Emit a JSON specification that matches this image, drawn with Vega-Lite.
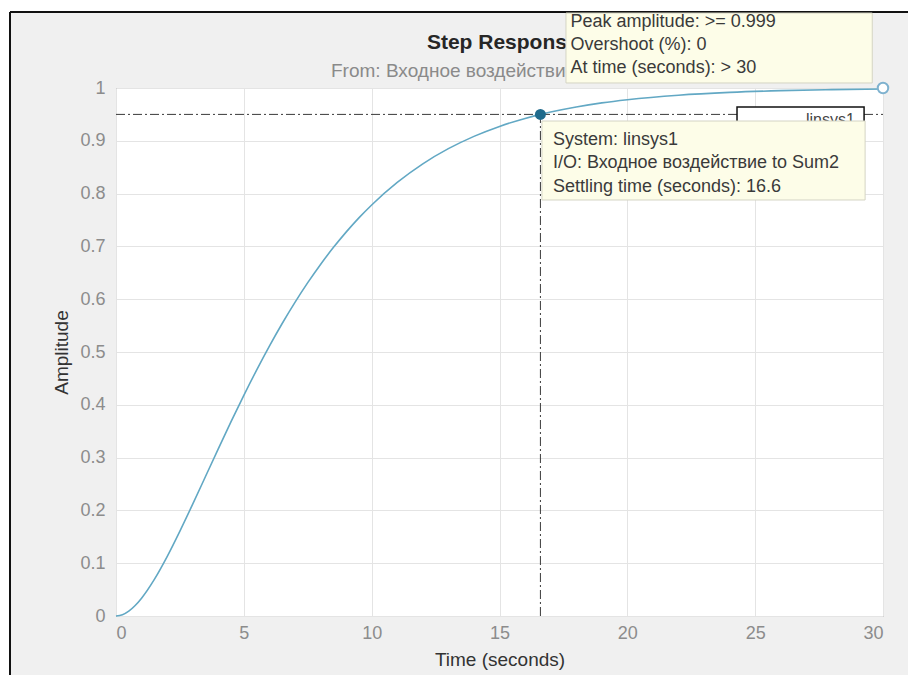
{
  "$schema": "https://vega.github.io/schema/vega-lite/v6.json",
  "width": 767,
  "height": 528,
  "autosize": {"type": "none"},
  "padding": {"left": 116, "top": 88, "right": 25, "bottom": 59},
  "background": "#f0f0f0",
  "config": {
    "font": "Liberation Sans",
    "view": {"fill": "white", "stroke": "#808080", "strokeWidth": 1}
  },
  "datasets": {
    "frameFill": [
      {"x": -4.7, "x2": 31.2, "y": 1.1439, "y2": 1.2},
      {"x": -4.7, "x2": -4.146, "y": -0.2, "y2": 1.2}
    ],
    "frameLine": [
      {"x": -4.146, "x2": 31.2, "y": 1.1439, "y2": 1.1439},
      {"x": -4.146, "x2": -4.146, "y": -0.2, "y2": 1.1439}
    ],
    "response": [
      {"x": 0, "y": 0},
      {"x": 0.25, "y": 0.0024},
      {"x": 0.5, "y": 0.0092},
      {"x": 0.75, "y": 0.0199},
      {"x": 1, "y": 0.0338},
      {"x": 1.5, "y": 0.0694},
      {"x": 2, "y": 0.1126},
      {"x": 2.5, "y": 0.1609},
      {"x": 3, "y": 0.2118},
      {"x": 3.5, "y": 0.2642},
      {"x": 4, "y": 0.3166},
      {"x": 4.5, "y": 0.368},
      {"x": 5, "y": 0.4179},
      {"x": 5.5, "y": 0.4657},
      {"x": 6, "y": 0.5111},
      {"x": 6.5, "y": 0.554},
      {"x": 7, "y": 0.594},
      {"x": 7.5, "y": 0.6313},
      {"x": 8, "y": 0.6659},
      {"x": 8.5, "y": 0.6977},
      {"x": 9, "y": 0.727},
      {"x": 9.5, "y": 0.754},
      {"x": 10, "y": 0.7785},
      {"x": 11, "y": 0.8211},
      {"x": 12, "y": 0.8564},
      {"x": 13, "y": 0.8851},
      {"x": 14, "y": 0.9084},
      {"x": 15, "y": 0.9273},
      {"x": 16, "y": 0.9424},
      {"x": 16.6, "y": 0.95},
      {"x": 17, "y": 0.9545},
      {"x": 18, "y": 0.9641},
      {"x": 19, "y": 0.9718},
      {"x": 20, "y": 0.9778},
      {"x": 22, "y": 0.9864},
      {"x": 24, "y": 0.9917},
      {"x": 26, "y": 0.995},
      {"x": 28, "y": 0.997},
      {"x": 30, "y": 0.9982}
    ],
    "guides": [
      {"x": 0, "x2": 30, "y": 0.95, "y2": 0.95},
      {"x": 16.6, "x2": 16.6, "y": 0, "y2": 0.95}
    ],
    "settle": [{"x": 16.6, "y": 0.95}],
    "peak": [{"x": 30, "y": 1}],
    "legendBox": [{"x": 24.29, "x2": 29.26, "y": 0.9, "y2": 0.964}],
    "legendText": [{"x": 28.9, "y": 0.9545, "label": "linsys1"}],
    "titles": [
      {"x": 12.16, "y": 1.0852, "label": "Step Response"}
    ],
    "subtitles": [
      {"x": 8.41, "y": 1.0322, "label": "From: Входное воздействие  To: Sum2"}
    ],
    "tipBoxes": [
      {"x": 17.6, "x2": 29.58, "y": 1.0095, "y2": 1.142},
      {"x": 16.66, "x2": 29.3, "y": 0.7879, "y2": 0.9375}
    ],
    "tipText": [
      {"x": 17.78, "y": 1.125, "label": "Peak amplitude: >= 0.999"},
      {"x": 17.78, "y": 1.0814, "label": "Overshoot (%): 0"},
      {"x": 17.78, "y": 1.0379, "label": "At time (seconds): > 30"},
      {"x": 17.09, "y": 0.9015, "label": "System: linsys1"},
      {"x": 17.09, "y": 0.858, "label": "I/O: Входное воздействие to Sum2"},
      {"x": 17.09, "y": 0.8125, "label": "Settling time (seconds): 16.6"}
    ]
  },
  "encoding": {
    "x": {
      "field": "x",
      "type": "quantitative",
      "scale": {"domain": [0, 30], "nice": false, "zero": false},
      "axis": {
        "title": "Time (seconds)",
        "values": [0, 5, 10, 15, 20, 25, 30],
        "grid": true,
        "gridColor": "#e4e4e4",
        "domain": false,
        "ticks": false,
        "labelFont": "Liberation Sans",
        "labelFontSize": 18,
        "labelColor": "#8c8c8c",
        "labelPadding": 8,
        "titleFont": "Liberation Sans",
        "titleFontSize": 19,
        "titleFontWeight": "normal",
        "titleColor": "#333333",
        "titlePadding": 8
      }
    },
    "y": {
      "field": "y",
      "type": "quantitative",
      "scale": {"domain": [0, 1], "nice": false, "zero": false},
      "axis": {
        "title": "Amplitude",
        "values": [0, 0.1, 0.2, 0.3, 0.4, 0.5, 0.6, 0.7, 0.8, 0.9, 1],
        "format": "~g",
        "grid": true,
        "gridColor": "#e4e4e4",
        "domain": false,
        "ticks": false,
        "labelFont": "Liberation Sans",
        "labelFontSize": 18,
        "labelColor": "#8c8c8c",
        "labelPadding": 11,
        "titleFont": "Liberation Sans",
        "titleFontSize": 19,
        "titleFontWeight": "normal",
        "titleColor": "#333333",
        "titlePadding": 8
      }
    }
  },
  "layer": [
    {
      "data": {"name": "frameFill"},
      "mark": {"type": "rect", "fill": "white", "strokeWidth": 0},
      "encoding": {"x2": {"field": "x2"}, "y2": {"field": "y2"}}
    },
    {
      "data": {"name": "frameLine"},
      "mark": {"type": "rule", "color": "#111111", "strokeWidth": 2},
      "encoding": {"x2": {"field": "x2"}, "y2": {"field": "y2"}}
    },
    {
      "data": {"name": "response"},
      "mark": {"type": "line", "color": "#62a8c4", "strokeWidth": 1.6, "interpolate": "monotone"}
    },
    {
      "data": {"name": "guides"},
      "mark": {"type": "rule", "color": "#3a3a3a", "strokeWidth": 1, "strokeDash": [9, 3, 2, 3]},
      "encoding": {"x2": {"field": "x2"}, "y2": {"field": "y2"}}
    },
    {
      "data": {"name": "settle"},
      "mark": {"type": "point", "filled": true, "color": "#1f6a8c", "size": 120, "opacity": 1}
    },
    {
      "data": {"name": "peak"},
      "mark": {"type": "point", "filled": false, "fill": "white", "stroke": "#7fb2cf", "strokeWidth": 2, "size": 110, "opacity": 1}
    },
    {
      "data": {"name": "legendBox"},
      "mark": {"type": "rect", "fill": "white", "stroke": "#111111", "strokeWidth": 1.5},
      "encoding": {"x2": {"field": "x2"}, "y2": {"field": "y2"}}
    },
    {
      "data": {"name": "legendText"},
      "mark": {"type": "text", "align": "right", "baseline": "top", "fontSize": 16, "color": "#444444", "font": "Liberation Sans"},
      "encoding": {"text": {"field": "label"}}
    },
    {
      "data": {"name": "titles"},
      "mark": {"type": "text", "align": "left", "baseline": "middle", "fontSize": 21, "fontWeight": "bold", "color": "#262626", "font": "Liberation Sans"},
      "encoding": {"text": {"field": "label"}}
    },
    {
      "data": {"name": "subtitles"},
      "mark": {"type": "text", "align": "left", "baseline": "middle", "fontSize": 19, "color": "#8a8a8a", "font": "Liberation Sans"},
      "encoding": {"text": {"field": "label"}}
    },
    {
      "data": {"name": "tipBoxes"},
      "mark": {"type": "rect", "fill": "#fdfde8", "stroke": "#d4d4c4", "strokeWidth": 1},
      "encoding": {"x2": {"field": "x2"}, "y2": {"field": "y2"}}
    },
    {
      "data": {"name": "tipText"},
      "mark": {"type": "text", "align": "left", "baseline": "middle", "fontSize": 18, "color": "#3a3a3a", "font": "Liberation Sans"},
      "encoding": {"text": {"field": "label"}}
    }
  ]
}
